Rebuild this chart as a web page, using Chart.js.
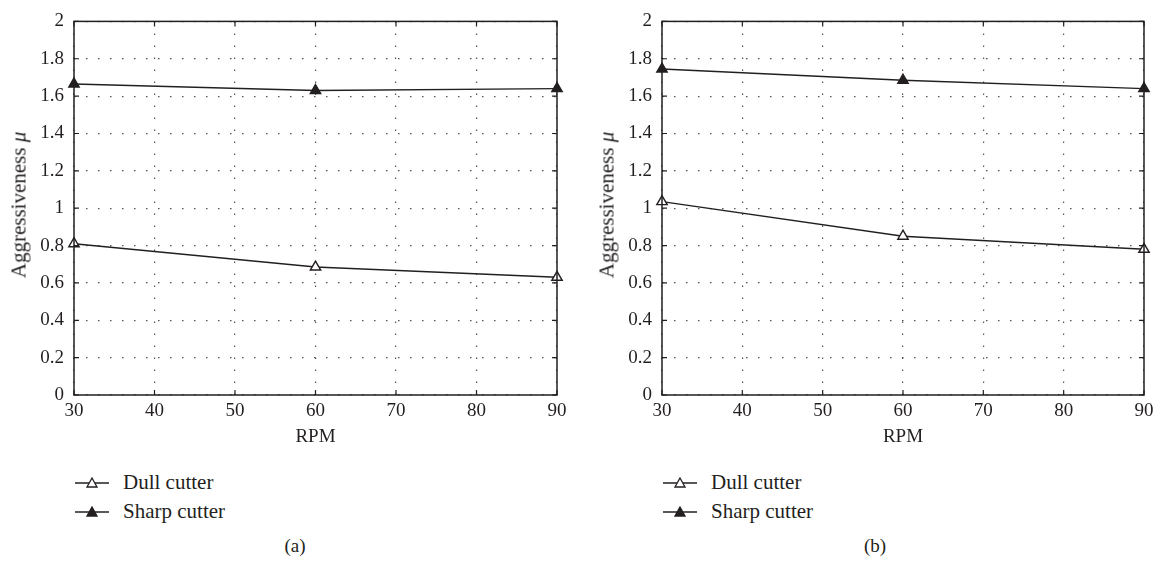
<!DOCTYPE html>
<html>
<head>
<meta charset="utf-8">
<script src="https://cdn.jsdelivr.net/npm/chart.js@4.4.1/dist/chart.umd.min.js"></script>
<style>
	body { margin: 0; background: #fff; width: 1160px; height: 565px; overflow: hidden; position: relative; font-family: 'Liberation Serif', 'DejaVu Serif', serif; color: #231f20; }
	.panel { position: absolute; top: 0; height: 450px; }
	.ytitle { position: absolute; top: 205px; font-size: 21px; white-space: nowrap; transform: translate(-50%, -50%) rotate(-90deg); }
	.legend { position: absolute; font-size: 21px; }
	.legend div { height: 29px; line-height: 29px; display: flex; align-items: center; }
	.legend svg { margin-right: 14px; }
	.caption { position: absolute; top: 535px; font-size: 19px; transform: translateX(-50%); }
</style>
</head>
<body>
<div class="panel" style="left:0;width:580px;"><canvas id="chartA"></canvas></div>
<div class="panel" style="left:588px;width:572px;"><canvas id="chartB"></canvas></div>

<div class="ytitle" style="left:19px;">Aggressiveness <i>μ</i></div>
<div class="ytitle" style="left:607px;">Aggressiveness <i>μ</i></div>

<div class="legend" style="left:75px;top:468px;">
	<div><svg width="34" height="12"><line x1="0" y1="6" x2="34" y2="6" stroke="#231f20" stroke-width="1.3"/><polygon points="17,1 22,10 12,10" fill="#fff" stroke="#231f20" stroke-width="1.3"/></svg>Dull cutter</div>
	<div><svg width="34" height="12"><line x1="0" y1="6" x2="34" y2="6" stroke="#231f20" stroke-width="1.3"/><polygon points="17,1 22,10 12,10" fill="#231f20" stroke="#231f20" stroke-width="1.3"/></svg>Sharp cutter</div>
</div>
<div class="legend" style="left:663px;top:468px;">
	<div><svg width="34" height="12"><line x1="0" y1="6" x2="34" y2="6" stroke="#231f20" stroke-width="1.3"/><polygon points="17,1 22,10 12,10" fill="#fff" stroke="#231f20" stroke-width="1.3"/></svg>Dull cutter</div>
	<div><svg width="34" height="12"><line x1="0" y1="6" x2="34" y2="6" stroke="#231f20" stroke-width="1.3"/><polygon points="17,1 22,10 12,10" fill="#231f20" stroke="#231f20" stroke-width="1.3"/></svg>Sharp cutter</div>
</div>
<div class="caption" style="left:295px;">(a)</div>
<div class="caption" style="left:875px;">(b)</div>

<script>
// RPM values (x) shared by both panels
const rpm = [30, 60, 90];

// panel (a)
const dullA = [0.81, 0.685, 0.63];
const sharpA = [1.665, 1.63, 1.64];

// panel (b)
const dullB = [1.035, 0.85, 0.78];
const sharpB = [1.745, 1.685, 1.64];

// axis ticks
const xTicks = [30, 40, 50, 60, 70, 80, 90];
const yTicks = [0, 0.2, 0.4, 0.6, 0.8, 1, 1.2, 1.4, 1.6, 1.8, 2];

const ink = '#231f20';
const serif = 'Liberation Serif, DejaVu Serif, serif';

function toPoints(xs, ys) {
	return xs.map((x, i) => ({ x: x, y: ys[i] }));
}

// box around plot area plus small inward tick marks, like the original figure
const frame = {
	id: 'frame',
	afterDatasetsDraw(chart) {
		const ctx = chart.ctx;
		const a = chart.chartArea;
		const xs = chart.scales.x;
		const ys = chart.scales.y;
		ctx.save();
		ctx.strokeStyle = ink;
		ctx.lineWidth = 1.5;
		ctx.strokeRect(a.left, a.top, a.right - a.left, a.bottom - a.top);
		ctx.lineWidth = 1.2;
		ctx.beginPath();
		xTicks.forEach(v => {
			const px = xs.getPixelForValue(v);
			ctx.moveTo(px, a.bottom); ctx.lineTo(px, a.bottom - 5);
			ctx.moveTo(px, a.top); ctx.lineTo(px, a.top + 5);
		});
		yTicks.forEach(v => {
			const py = ys.getPixelForValue(v);
			ctx.moveTo(a.left, py); ctx.lineTo(a.left + 5, py);
			ctx.moveTo(a.right, py); ctx.lineTo(a.right - 5, py);
		});
		ctx.stroke();
		ctx.restore();
	}
};

function makeChart(id, dull, sharp, rightPad) {
	const ctx = document.getElementById(id).getContext('2d');
	return new Chart(ctx, {
		type: 'line',
		data: {
			datasets: [
				{
					label: 'Dull cutter',
					data: toPoints(rpm, dull),
					borderColor: ink,
					borderWidth: 1.4,
					clip: false,
					pointStyle: 'triangle',
					pointRadius: 6,
					pointBorderWidth: 1.4,
					pointBackgroundColor: '#fff',
					pointBorderColor: ink
				},
				{
					label: 'Sharp cutter',
					data: toPoints(rpm, sharp),
					borderColor: ink,
					borderWidth: 1.4,
					clip: false,
					pointStyle: 'triangle',
					pointRadius: 6,
					pointBorderWidth: 1.4,
					pointBackgroundColor: ink,
					pointBorderColor: ink
				}
			]
		},
		options: {
			responsive: true,
			maintainAspectRatio: false,
			animation: false,
			layout: { padding: { top: 14, right: rightPad, bottom: 0, left: 0 } },
			plugins: { legend: { display: false }, tooltip: { enabled: false } },
			scales: {
				x: {
					type: 'linear',
					min: 30,
					max: 90,
					afterBuildTicks: s => { s.ticks = xTicks.map(v => ({ value: v })); },
					afterFit: s => { s.height = 55; },
					border: { display: false, dash: [1.5, 10.5] },
					grid: { color: '#555', lineWidth: 1.2, drawTicks: false },
					ticks: { color: ink, font: { family: serif, size: 19 }, padding: 5, maxRotation: 0 },
					title: { display: true, text: 'RPM', color: ink, font: { family: serif, size: 19 }, padding: { top: 0, bottom: 2 } }
				},
				y: {
					min: 0,
					max: 2,
					afterBuildTicks: s => { s.ticks = yTicks.map(v => ({ value: v })); },
					afterFit: s => { s.width = 74; },
					border: { display: false, dash: [1.5, 10.5] },
					grid: { color: '#555', lineWidth: 1.2, drawTicks: false },
					ticks: { color: ink, font: { family: serif, size: 19 }, padding: 10, callback: v => String(Number(v.toFixed(1))) }
				}
			}
		},
		plugins: [frame]
	});
}

makeChart('chartA', dullA, sharpA, 23);
makeChart('chartB', dullB, sharpB, 16);
</script>
</body>
</html>
